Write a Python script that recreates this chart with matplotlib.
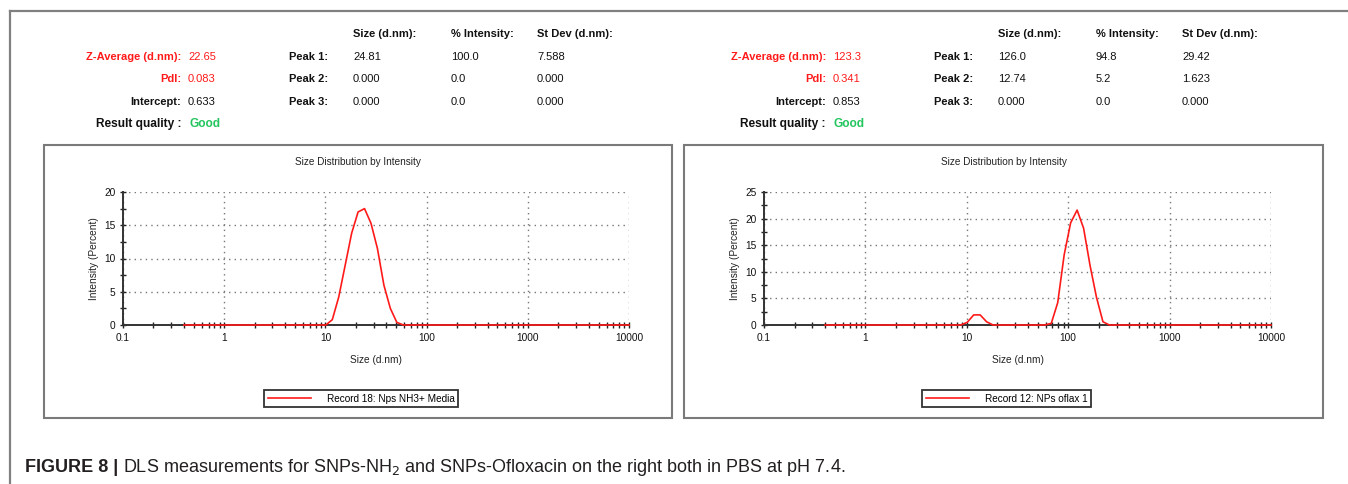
import matplotlib
matplotlib.use("Agg")
import matplotlib.pyplot as plt
from matplotlib.patches import Rectangle
from matplotlib.lines import Line2D
from matplotlib.ticker import LogLocator, MultipleLocator, FixedLocator, FixedFormatter

plt.rcParams['font.family'] = ['Liberation Sans', 'DejaVu Sans']

W, H = 1348, 484

sizes_nh2 = [0.4, 10.10, 11.70, 13.54, 15.69, 18.17, 21.04, 24.36, 28.21,
             32.67, 37.84, 43.82, 50.75, 58.77, 10000]
intens_nh2 = [0, 0, 0.8, 4.2, 9.0, 13.8, 17.0, 17.5, 15.3,
              11.5, 6.0, 2.5, 0.4, 0, 0]

sizes_oflox = [0.4, 8.721, 10.10, 11.70, 13.54, 15.69, 18.17, 58.77, 68.06,
               78.82, 91.28, 105.7, 122.4, 141.8, 164.2, 190.1, 220.2, 255.0, 10000]
intens_oflox = [0, 0, 0.5, 1.9, 1.9, 0.6, 0, 0, 0.3,
                4.2, 13.2, 19.2, 21.6, 18.2, 11.2, 5.2, 0.6, 0, 0]

legend_labels = ["Record 18: Nps NH3+ Media", "Record 12: NPs oflax 1"]
y_max = [20, 25]

zavg = ["22.65", "123.3"]
pdi = ["0.083", "0.341"]
intercept = ["0.633", "0.853"]
quality = ["Good", "Good"]
peak_sizes = [["24.81", "0.000", "0.000"], ["126.0", "12.74", "0.000"]]
peak_intens = [["100.0", "0.0", "0.0"], ["94.8", "5.2", "0.0"]]
peak_stdev = [["7.588", "0.000", "0.000"], ["29.42", "1.623", "0.000"]]

RED = '#ff1a1a'
GREEN = '#22c55e'
FS = 8

fig = plt.figure(figsize=(W / 100, H / 100), dpi=100)


def fx(x):
    return x / W


def fy(y):
    return 1 - y / H


# outer frame (left and top edges)
fig.add_artist(Line2D([fx(10), fx(10)], [fy(11), 0], color='#808080', lw=1.6))
fig.add_artist(Line2D([fx(10), 1], [fy(11), fy(11)], color='#808080', lw=1.6))

# --- header tables ---
offsets = [0, 645]
for i, off in enumerate(offsets):
    lab_x = 181 + off
    val_x = 188 + off
    rows_y = [57, 79, 102, 124]
    fig.text(fx(lab_x), fy(rows_y[0]), "Z-Average (d.nm):", color=RED, fontsize=FS,
             fontweight='bold', ha='right', va='center')
    fig.text(fx(val_x), fy(rows_y[0]), zavg[i], color=RED, fontsize=FS, va='center')
    fig.text(fx(lab_x), fy(rows_y[1]), "PdI:", color=RED, fontsize=FS,
             fontweight='bold', ha='right', va='center')
    fig.text(fx(val_x), fy(rows_y[1]), pdi[i], color=RED, fontsize=FS, va='center')
    fig.text(fx(lab_x), fy(rows_y[2]), "Intercept:", color='#111111', fontsize=FS,
             fontweight='bold', ha='right', va='center')
    fig.text(fx(val_x), fy(rows_y[2]), intercept[i], color='#111111', fontsize=FS, va='center')
    fig.text(fx(lab_x), fy(rows_y[3]), "Result quality :", color='#111111', fontsize=8.6,
             fontweight='bold', ha='right', va='center')
    fig.text(fx(val_x + 1), fy(rows_y[3]), quality[i], color=GREEN, fontsize=8.6,
             fontweight='bold', va='center')

    col_x = [289 + off, 353 + off, 451 + off, 537 + off]
    fig.text(fx(col_x[1]), fy(34), "Size (d.nm):", fontsize=FS, fontweight='bold',
             va='center', color='#111111')
    fig.text(fx(col_x[2]), fy(34), "% Intensity:", fontsize=FS, fontweight='bold',
             va='center', color='#111111')
    fig.text(fx(col_x[3]), fy(34), "St Dev (d.nm):", fontsize=FS, fontweight='bold',
             va='center', color='#111111')
    for k in range(3):
        y = rows_y[k]
        fig.text(fx(col_x[0]), fy(y), "Peak %d:" % (k + 1), fontsize=FS,
                 fontweight='bold', va='center', color='#111111')
        fig.text(fx(col_x[1]), fy(y), peak_sizes[i][k], fontsize=FS, va='center', color='#111111')
        fig.text(fx(col_x[2]), fy(y), peak_intens[i][k], fontsize=FS, va='center', color='#111111')
        fig.text(fx(col_x[3]), fy(y), peak_stdev[i][k], fontsize=FS, va='center', color='#111111')

# --- the two graph panels ---
panels = [(44, 672), (684, 1323)]
axes_px = [(123, 629), (764, 1271)]
series = [(sizes_nh2, intens_nh2), (sizes_oflox, intens_oflox)]

for i in range(2):
    px0, px1 = panels[i]
    fig.add_artist(Rectangle((fx(px0), fy(418)), fx(px1 - px0), (418 - 145) / H,
                             fill=False, edgecolor='#7a7a7a', lw=1.5,
                             transform=fig.transFigure))
    fig.text(fx((px0 + px1) / 2), fy(162), "Size Distribution by Intensity",
             fontsize=7.2, ha='center', va='center', color='#222222')

    ax0, ax1 = axes_px[i]
    ax = fig.add_axes([fx(ax0), fy(325), fx(ax1 - ax0), 133 / H])
    x, y = series[i]
    ax.plot(x, y, color=RED, lw=1.2, zorder=4, clip_on=False, label=legend_labels[i])
    ax.set_xscale('log')
    ax.set_xlim(0.1, 10000)
    ax.set_ylim(0, y_max[i])

    ax.xaxis.set_major_locator(FixedLocator([0.1, 1, 10, 100, 1000, 10000]))
    ax.xaxis.set_major_formatter(FixedFormatter(["0.1", "1", "10", "100", "1000", "10000"]))
    ax.xaxis.set_minor_locator(LogLocator(base=10, subs=range(2, 10), numticks=20))
    ax.yaxis.set_major_locator(MultipleLocator(5))
    ax.yaxis.set_minor_locator(MultipleLocator(2.5))

    for s in ['top', 'right']:
        ax.spines[s].set_visible(False)
    for s in ['left', 'bottom']:
        ax.spines[s].set_color('#333333')
        ax.spines[s].set_linewidth(1.4)

    ax.tick_params(which='major', direction='inout', length=5, width=1, color='#222222',
                   labelsize=7.3, labelcolor='#111111', pad=3)
    ax.tick_params(which='minor', direction='inout', length=4, width=1, color='#222222')
    ax.xaxis.set_minor_formatter(FixedFormatter([]))
    ax.grid(True, which='major', linestyle=(0, (1, 3)), color='#777777', lw=1)
    ax.set_axisbelow(True)

    ax.set_xlabel("Size (d.nm)", fontsize=7.3, labelpad=9, color='#222222')
    ax.set_ylabel("Intensity (Percent)", fontsize=7.3, labelpad=4, color='#222222')

    leg = ax.legend(loc='center', bbox_to_anchor=(fx((px0 + px1) / 2 + 3), fy(398.5)),
                    bbox_transform=fig.transFigure, fontsize=7.2, handlelength=4.3,
                    handletextpad=1.6, fancybox=False, framealpha=1,
                    edgecolor='#333333', borderpad=0.35, borderaxespad=0)
    leg.get_frame().set_linewidth(1.3)

# --- caption ---
fig.canvas.draw()
renderer = fig.canvas.get_renderer()
t1 = fig.text(fx(25), fy(468), "FIGURE 8 |", fontsize=13, fontweight='bold',
              color='#231f20', va='center')
bb = t1.get_window_extent(renderer)
fig.text(bb.x1 / W + fx(5), fy(468),
         "DLS measurements for SNPs-NH$_2$ and SNPs-Ofloxacin on the right both in PBS at pH 7.4.",
         fontsize=13, color='#231f20', va='center')

fig.savefig("out.png", dpi=100)
